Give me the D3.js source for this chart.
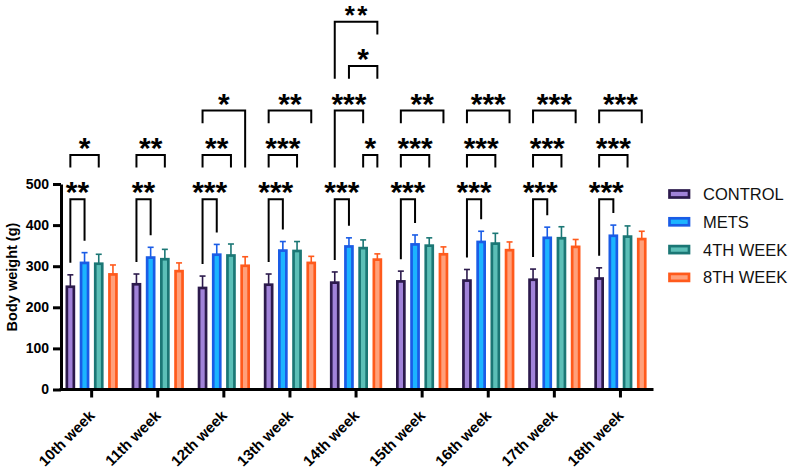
<!DOCTYPE html>
<html><head><meta charset="utf-8">
<script src="https://cdn.jsdelivr.net/npm/d3@7"></script>
<style>
html,body{margin:0;padding:0;background:#fff;}
svg{display:block;font-family:"Liberation Sans",Arial,sans-serif;}
</style></head>
<body><svg id="c" width="794" height="470"></svg>
<script>
const weeks = ["10th week","11th week","12th week","13th week","14th week","15th week","16th week","17th week","18th week"];
const seriesNames = ["CONTROL","METS","4TH WEEK","8TH WEEK"];
const controlMean = [250,256,247,255,260,263,265,267,270];
const controlSD   = [29,25,29,26,26,25,27,26,26];
const metsMean    = [308,321,328,338,348,353,359,369,374];
const metsSD      = [25,25,25,22,21,23,26,26,26];
const week4Mean   = [306,317,326,337,344,350,355,368,372];
const week4SD     = [23,24,28,23,20,19,25,28,26];
const week8Mean   = [280,288,301,308,316,329,339,347,366];
const week8SD     = [23,20,22,16,14,18,20,18,19];
const yTicks = [0,100,200,300,400,500];
// brackets: [week index, series a, series b, level, label, left leg to level, right leg to level] (0 = error bar)
const brackets = [
  [0,0,1,1,"**",0,0],[0,0,2,2,"*",2,2],
  [1,0,1,1,"**",0,0],[1,0,2,2,"**",2,2],
  [2,0,1,1,"***",0,0],[2,0,2,2,"**",2,2],[2,0,3,3,"*",3,2],
  [3,0,1,1,"***",0,0],[3,0,2,2,"***",2,2],[3,0,3,3,"**",3,3],
  [4,0,1,1,"***",0,0],[4,2,3,2,"*",2,2],[4,0,2,3,"***",2,3],[4,1,3,4,"*",4,4],[4,0,3,5,"**",4,5],
  [5,0,1,1,"***",0,0],[5,0,2,2,"***",2,2],[5,0,3,3,"**",3,3],
  [6,0,1,1,"***",0,0],[6,0,2,2,"***",2,2],[6,0,3,3,"***",3,3],
  [7,0,1,1,"***",0,0],[7,0,2,2,"***",2,2],[7,0,3,3,"***",3,3],
  [8,0,1,1,"***",0,0],[8,0,2,2,"***",2,2],[8,0,3,3,"***",3,3]
];

const means = [controlMean, metsMean, week4Mean, week8Mean];
const sds = [controlSD, metsSD, week4SD, week8SD];
const strokes = ["#2c1a4c","#1a5ce6","#1b7775","#ff5a1c"];
const fills = ["#a183d9","#1cb4ff","#5cbfb7","#ffa07a"];

const svg = d3.select("#c");
const x0 = d3.scaleBand().domain(weeks).range([58.6,653.5]).paddingInner(0).paddingOuter(0);
const x1 = d3.scaleBand().domain(d3.range(4)).range([-28.4,28.4]);
const y = d3.scaleLinear().domain([0,500]).range([389.5,184]);
const barW = 7;
const cx = (g,s) => x0(weeks[g]) + x0.bandwidth()/2 + x1(s) + x1.bandwidth()/2;

// bars
const data = [];
weeks.forEach((w,g)=>{ for(let s=0;s<4;s++) data.push({g,s,m:means[s][g],sd:sds[s][g]}); });
const gb = svg.append("g");
gb.selectAll("line.err").data(data).join("line")
  .attr("x1",d=>cx(d.g,d.s)).attr("x2",d=>cx(d.g,d.s))
  .attr("y1",d=>y(d.m)).attr("y2",d=>y(d.m+d.sd))
  .attr("stroke",d=>strokes[d.s]).attr("stroke-width",1.6);
gb.selectAll("line.cap").data(data).join("line")
  .attr("x1",d=>cx(d.g,d.s)-3).attr("x2",d=>cx(d.g,d.s)+3)
  .attr("y1",d=>y(d.m+d.sd)).attr("y2",d=>y(d.m+d.sd))
  .attr("stroke",d=>strokes[d.s]).attr("stroke-width",1.6);
gb.selectAll("rect").data(data).join("rect")
  .attr("x",d=>cx(d.g,d.s)-barW/2).attr("width",barW)
  .attr("y",d=>y(d.m)).attr("height",d=>y(0)-y(d.m))
  .attr("fill",d=>fills[d.s]).attr("stroke",d=>strokes[d.s]).attr("stroke-width",2.7);

// axes
const yAxis = svg.append("g").attr("transform","translate(61,0)")
  .call(d3.axisLeft(y).tickValues(yTicks).tickSize(8).tickSizeOuter(0));
yAxis.select(".domain").attr("stroke","#000").attr("stroke-width",3);
yAxis.selectAll(".tick line").attr("stroke","#000").attr("stroke-width",3);
yAxis.selectAll(".tick text").attr("font-size","14px").attr("font-weight","bold")
  .attr("fill","#000").attr("x",-12).attr("font-family","Liberation Sans, Arial, sans-serif");

const xAxis = svg.append("g").attr("transform","translate(0,389.5)")
  .call(d3.axisBottom(x0).tickSize(8).tickSizeOuter(0));
xAxis.select(".domain").attr("stroke","#000").attr("stroke-width",3).attr("d","M59.5,0H653.5");
xAxis.selectAll(".tick line").attr("stroke","#000").attr("stroke-width",3);
xAxis.selectAll(".tick text").attr("font-size","15px").attr("font-weight","bold").attr("fill","#000")
  .attr("font-family","Liberation Sans, Arial, sans-serif")
  .attr("text-anchor","end").attr("y",0).attr("dy",0)
  .attr("transform","translate(4,27) rotate(-45)");

svg.append("text").attr("transform","translate(17,277) rotate(-90)")
  .attr("text-anchor","middle").attr("font-size","14.5px").attr("font-weight","bold")
  .text("Body weight (g)");

// significance brackets
const levelY = d3.scaleLinear().domain([1,5]).range([199.3,21.7]);
const legBottom = (g,s,lv) => lv===0 ? y(means[s][g]+sds[s][g]) - 12 : levelY(lv) + 12.7;
const gs = svg.append("g");
brackets.forEach(([g,a,b,lv,lab,la,lb])=>{
  const xa = cx(g,a), xb = cx(g,b), yl = levelY(lv);
  gs.append("path")
    .attr("d",`M${xa},${legBottom(g,a,la)}V${yl}H${xb}V${legBottom(g,b,lb)}`)
    .attr("fill","none").attr("stroke","#000").attr("stroke-width",2);
  const top = lv===5;
  gs.append("text").attr("x",(xa+xb)/2 + (top?1.2:0)).attr("y",top? 24 : yl+3).attr("text-anchor","middle")
    .attr("font-size", top ? "26px" : "30px").attr("letter-spacing", top ? "2.5px" : null)
    .attr("font-weight","bold").text(lab);
});

// legend
const lg = svg.append("g");
seriesNames.forEach((n,i)=>{
  const yy = 194 + i*27.8;
  lg.append("rect").attr("x",669.5).attr("y",yy-3.5).attr("width",19.5).attr("height",7)
    .attr("fill",fills[i]).attr("stroke",strokes[i]).attr("stroke-width",2.7);
  lg.append("text").attr("x",703).attr("y",yy).attr("dy","0.36em")
    .attr("font-size","16.5px").attr("fill","#111").text(n);
});
</script></body></html>
